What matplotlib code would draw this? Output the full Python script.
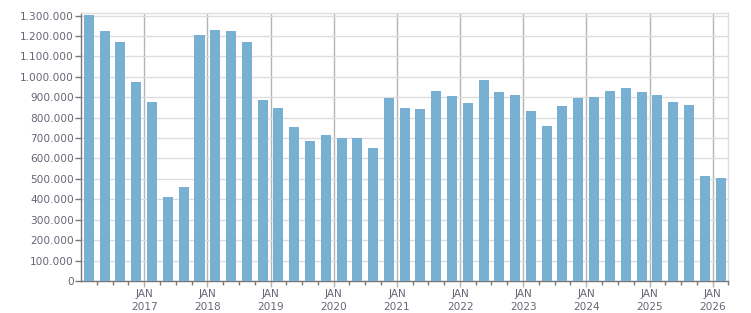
import matplotlib
matplotlib.use("Agg")
import matplotlib.pyplot as plt
import matplotlib.dates as mdates
import matplotlib.ticker as mticker
import pandas as pd

# quarterly values, 2016 Q1 .. 2026 Q1
first_quarter = "2016Q1"
last_quarter = "2026Q1"
values = [
    1305000, 1224000, 1170000, 976000,
    877000, 413000, 462000, 1205000,
    1229000, 1224000, 1170000, 887000,
    849000, 756000, 687000, 716000,
    702000, 702000, 653000, 897000,
    849000, 844000, 931000, 906000,
    872000, 985000, 926000, 911000,
    834000, 761000, 859000, 897000,
    902000, 931000, 945000, 926000,
    911000, 877000, 862000, 516000,
    506000,
]
label_years = list(range(2017, 2027))

quarters = pd.period_range(first_quarter, last_quarter, freq="Q")
starts = quarters.start_time
ends = (quarters + 1).start_time
centers = starts + (ends - starts) / 2

txt = "#666677"
fig = plt.figure(figsize=(7.51, 3.13), dpi=100)
ax = fig.add_axes([0.1079, 0.1022, 0.8619, 0.8553])

ax.bar(mdates.date2num(centers), values, width=58, color="#77b0d2", zorder=3)

ax.set_xlim(mdates.date2num(starts[0]), mdates.date2num(ends[-1]))
ax.set_ylim(0, 1311000)

# y axis
ax.yaxis.set_major_locator(mticker.MultipleLocator(100000))
ax.yaxis.set_major_formatter(mticker.FuncFormatter(lambda v, p: f"{int(v):,}".replace(",", ".")))
ax.grid(axis="y", color="#dddddd", linewidth=1, zorder=0)

# x axis: january lines + quarter ticks
jan = [pd.Timestamp(f"{y}-01-01") for y in label_years]
ax.set_xticks(mdates.date2num(jan))
ax.set_xticklabels([f"JAN\n{y}" for y in label_years], linespacing=1.35)
ax.xaxis.set_minor_locator(mdates.MonthLocator(bymonth=[4, 7, 10]))
ax.grid(axis="x", which="major", color="#b4b4b4", linewidth=1, zorder=1)

ax.tick_params(axis="y", length=4, width=1, color="#777777", pad=1, labelsize=7.6, labelcolor=txt)
ax.tick_params(axis="x", which="major", length=4, width=1, color="#b4b4b4", pad=2, labelsize=7.6, labelcolor=txt)
ax.tick_params(axis="x", which="minor", length=3, width=1, color="#777777")

for s in ("left", "bottom"):
    ax.spines[s].set_color("#777777")
    ax.spines[s].set_linewidth(1)
for s in ("top", "right"):
    ax.spines[s].set_color("#dddddd")
    ax.spines[s].set_linewidth(1)

fig.savefig("out.png", dpi=100)
